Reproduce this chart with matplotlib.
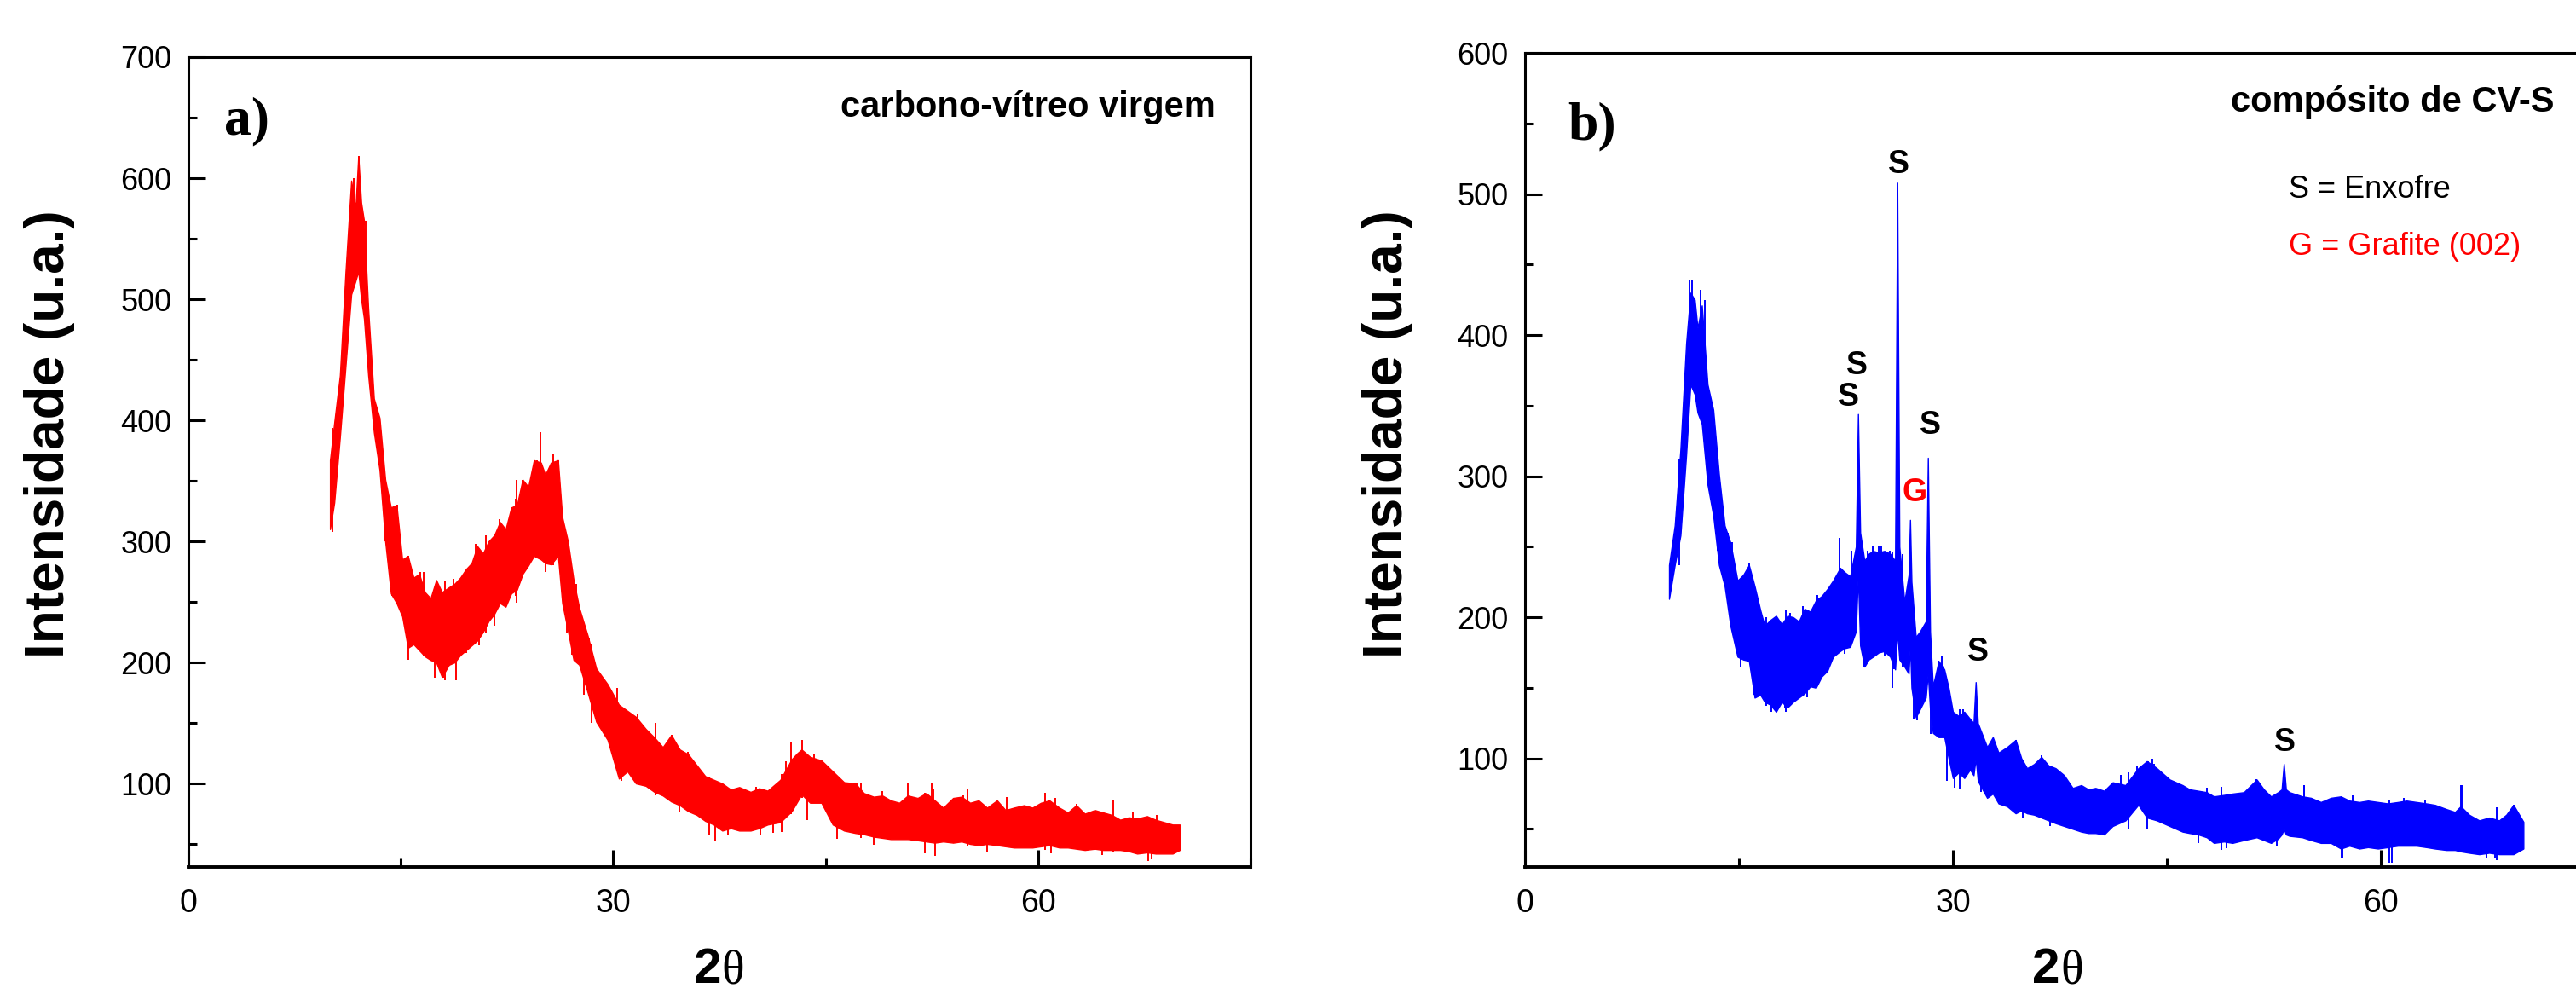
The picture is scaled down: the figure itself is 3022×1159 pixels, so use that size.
import matplotlib
matplotlib.use('Agg')
import matplotlib.pyplot as plt
from matplotlib.ticker import MultipleLocator

plt.rcParams['font.family'] = ['Liberation Sans', 'DejaVu Sans']

# a) carbono-vitreo virgem : noisy band (upper / lower edge)
ang_a = [10.0, 10.3, 10.7, 11.1, 11.5, 11.8, 12.0, 12.2, 12.4, 12.7,
         13.1, 13.5, 13.9, 14.3, 14.7, 15.1, 15.5, 15.9, 16.3, 16.7,
         17.1, 17.5, 17.9, 18.4, 18.8, 19.2, 19.6, 20.0, 20.4, 20.8,
         21.2, 21.6, 22.0, 22.4, 22.8, 23.2, 23.6, 24.0, 24.4, 24.9,
         25.2, 25.6, 26.1, 26.4, 26.8, 27.2, 27.6, 28.2, 28.8, 29.6,
         30.4, 31.0, 31.6, 32.3, 32.9, 33.5, 34.1, 34.7, 35.3, 35.9,
         36.5, 37.1, 37.7, 38.3, 38.9, 39.7, 40.3, 40.9, 41.8, 42.6,
         43.0, 43.3, 43.9, 44.7, 45.5, 46.3, 47.1, 47.7, 48.4, 49.0,
         49.6, 50.2, 50.8, 51.5, 52.1, 52.7, 53.3, 54.0, 54.6, 55.2,
         55.8, 56.4, 57.1, 57.7, 58.3, 59.0, 59.6, 60.2, 60.8, 61.5,
         62.1, 62.7, 63.3, 64.0, 64.6, 65.2, 65.8, 66.4, 67.0, 67.7,
         68.3, 68.9, 69.5, 70.0]
top_a = [367, 398, 437, 523, 598, 575, 618, 580, 565, 492,
         418, 402, 351, 328, 330, 285, 288, 270, 273, 258,
         253, 268, 258, 262, 265, 270, 277, 282, 296, 290,
         300, 305, 316, 310, 328, 330, 351, 345, 367, 365,
         355, 365, 367, 320, 300, 268, 245, 222, 195, 182,
         165, 160, 155, 145, 138, 130, 140, 128, 124, 115,
         106, 103, 100, 95, 97, 93, 96, 94, 103, 120,
         125, 128, 122, 119, 110, 101, 100, 92, 89, 90,
         86, 84, 90, 88, 92, 86, 80, 88, 89, 84,
         86, 80, 86, 78, 80, 82, 80, 84, 86, 80,
         76, 82, 75, 78, 76, 74, 70, 72, 71, 73,
         70, 68, 66, 66]
bot_a = [310, 332, 386, 445, 504, 515, 523, 500, 484, 437,
         390, 359, 300, 257, 249, 238, 212, 215, 210, 205,
         202, 200, 188, 198, 200, 206, 210, 214, 218, 225,
         234, 240, 249, 246, 257, 260, 273, 280, 288, 285,
         282, 281, 288, 249, 226, 202, 198, 175, 151, 136,
         104, 110, 100, 98, 93, 90, 85, 82, 77, 74,
         69, 66, 61, 63, 61, 61, 63, 66, 68, 77,
         85, 91, 84, 84, 66, 61, 59, 58, 56, 55,
         54, 54, 54, 53, 52, 51, 52, 51, 52, 50,
         49, 50, 49, 48, 47, 47, 47, 48, 49, 47,
         47, 46, 45, 46, 45, 45, 45, 44, 42, 43,
         42, 42, 42, 45]
# single noise spikes: angle, top, bottom
spk_ang_a = [11.65, 12.05, 14.75, 16.6, 18.0, 18.9, 21.0, 23.1, 24.85, 25.75,
             28.5, 33.0, 36.8, 41.9, 42.55, 43.35, 47.5, 52.0, 52.5, 55.0,
             60.5, 60.9, 65.3, 68.0,
             10.2, 11.2, 12.5, 13.9, 14.4, 15.5, 15.9, 16.4, 17.4, 18.1,
             18.7, 19.6, 20.3, 20.5, 21.6, 22.0, 23.15, 23.2, 23.6, 24.6,
             25.2, 26.1, 26.7, 27.1, 27.4, 27.9, 28.3, 30.3, 30.6, 31.7,
             34.1, 34.7, 35.3, 37.2, 38.1, 40.1, 40.4, 41.3, 42.2, 43.7,
             44.2, 45.1, 45.8, 47.2, 48.4, 49.0, 50.8, 52.6, 52.7, 54.7,
             56.4, 57.8, 61.2, 62.7, 64.5, 66.7, 67.8, 68.4]
spk_top_a = [600, 618, 330, 275, 250, 255, 305, 335, 390, 372,
             215, 150, 105, 108, 134, 136, 100, 92, 100, 96,
             92, 84, 86, 72,
             394, 520, 565, 340, 310, 288, 267, 275, 240, 267,
             269, 250, 298, 260, 280, 318, 300, 351, 351, 367,
             330, 367, 280, 250, 265, 210, 220, 179, 140, 157,
             140, 110, 126, 85, 85, 97, 80, 85, 118, 110,
             124, 111, 80, 101, 70, 94, 100, 96, 70, 90,
             65, 89, 88, 83, 60, 77, 55, 74]
spk_bot_a = [510, 520, 255, 205, 187, 185, 225, 255, 285, 280,
             150, 90, 58, 60, 75, 88, 55, 42, 52, 48,
             45, 42, 44, 37,
             308, 460, 500, 300, 255, 202, 225, 230, 187, 185,
             225, 208, 240, 214, 230, 270, 249, 290, 300, 310,
             275, 300, 224, 206, 215, 173, 180, 130, 102, 120,
             105, 77, 95, 52, 57, 75, 57, 59, 90, 70,
             95, 80, 54, 75, 49, 70, 70, 70, 40, 65,
             43, 65, 62, 60, 41, 55, 36, 55]

# b) composito de CV-S
ang_b = [10.1, 10.5, 10.9, 11.3, 11.6, 11.9, 12.1, 12.4, 12.8, 13.2,
         13.6, 14.0, 14.4, 14.9, 15.3, 15.7, 16.1, 16.5, 16.8, 17.2,
         17.6, 18.0, 18.4, 18.8, 19.2, 19.6, 20.0, 20.4, 20.8, 21.2,
         21.6, 22.1, 22.4, 22.8, 23.2, 23.35, 23.5, 23.8, 24.1, 24.4,
         24.8, 25.2, 25.6, 25.95, 26.1, 26.25, 26.6, 26.9, 27.0, 27.1,
         27.4, 27.7, 28.1, 28.25, 28.4, 28.6, 29.0, 29.4, 29.7, 30.0,
         30.4, 30.8, 31.2, 31.45, 31.6, 31.75, 32.4, 32.8, 33.2, 33.8,
         34.4, 34.8, 35.2, 35.7, 36.2, 36.7, 37.2, 37.8, 38.4, 39.0,
         39.5, 40.0, 40.6, 41.2, 42.1, 43.0, 43.6, 44.3, 45.2, 46.1,
         46.6, 47.2, 47.8, 48.3, 49.0, 49.6, 50.4, 51.3, 51.8, 52.3,
         52.8, 53.05, 53.2, 53.35, 53.6, 54.5, 55.1, 55.8, 56.5, 57.2,
         57.8, 58.5, 59.1, 59.8, 60.5, 61.2, 61.8, 62.5, 63.2, 63.8,
         64.6, 65.2, 65.6, 66.2, 66.9, 67.6, 68.3, 68.8, 69.3, 70.0]
top_b = [237, 265, 319, 394, 430, 425, 405, 421, 365, 347,
         301, 265, 253, 226, 230, 237, 222, 205, 194, 198,
         201, 195, 201, 200, 197, 206, 204, 212, 215, 220,
         226, 235, 232, 229, 250, 344, 260, 240, 245, 247,
         246, 247, 245, 240, 508, 250, 211, 230, 269, 225,
         186, 190, 197, 313, 190, 151, 169, 163, 150, 133,
         130, 133, 128, 125, 154, 125, 108, 115, 104, 108,
         113, 100, 93, 96, 101, 95, 93, 88, 79, 81,
         78, 79, 77, 83, 81, 93, 98, 93, 85, 81,
         78, 77, 76, 73, 74, 75, 76, 85, 78, 73,
         76, 78, 96, 78, 76, 73, 72, 69, 72, 73,
         70, 69, 70, 69, 68, 69, 70, 69, 68, 67,
         64, 62, 66, 60, 56, 58, 56, 60, 67, 55]
bot_b = [213, 237, 258, 315, 365, 358, 345, 337, 294, 272,
         237, 222, 194, 172, 170, 169, 143, 145, 140, 138,
         133, 140, 136, 140, 143, 146, 151, 150, 158, 162,
         172, 176, 178, 179, 190, 230, 180, 165, 170, 172,
         175, 176, 172, 163, 190, 170, 165, 160, 180, 150,
         129, 135, 143, 160, 135, 118, 115, 115, 100, 86,
         90, 86, 92, 88, 100, 84, 72, 75, 68, 66,
         61, 63, 61, 60, 58, 56, 54, 52, 50, 48,
         47, 47, 46, 52, 56, 67, 58, 56, 52, 48,
         47, 46, 44, 40, 41, 40, 42, 44, 42, 40,
         43, 46, 50, 46, 45, 44, 42, 40, 40, 36,
         38, 36, 37, 36, 37, 38, 38, 38, 37, 36,
         35, 35, 34, 33, 32, 33, 32, 32, 32, 36]
spk_ang_b = [11.55, 12.3, 12.6, 16.9, 18.3, 20.5, 22.05, 24.4, 25.0, 25.75,
             26.45, 27.25, 29.2, 30.5, 34.4, 42.3, 44.0, 48.8, 54.6, 57.3,
             60.6, 65.6, 68.1,
             10.8, 11.7, 11.9, 13.2, 13.5, 14.2, 14.5, 15.1, 15.7, 16.1,
             17.3, 18.2, 18.6, 19.5, 19.8, 20.55, 21.3, 22.4, 22.9, 23.8,
             24.0, 24.8, 25.2, 25.6, 25.9, 26.4, 26.7, 27.5, 28.0, 28.45,
             29.0, 29.6, 30.1, 30.7, 32.0, 34.9, 36.2, 36.8, 41.2, 41.8,
             42.9, 43.7, 43.6, 44.1, 44.7, 47.2, 47.8, 49.2, 51.3, 52.7,
             54.65, 57.25, 58.0, 60.8, 61.6, 63.1, 65.65, 67.4, 68.0, 69.3]
spk_top_b = [439, 432, 425, 200, 205, 216, 256, 250, 250, 246,
             245, 200, 173, 135, 113, 90, 100, 80, 81, 72,
             70, 81, 65,
             312, 439, 426, 347, 290, 260, 253, 200, 238, 180,
             170, 170, 203, 208, 180, 211, 219, 210, 247, 210,
             247, 251, 210, 247, 200, 220, 200, 160, 185, 150,
             169, 120, 110, 135, 100, 85, 102, 75, 83, 88,
             94, 98, 70, 96, 86, 60, 79, 55, 85, 55,
             81, 50, 74, 45, 72, 71, 81, 45, 45, 67]
spk_bot_b = [360, 340, 330, 137, 133, 155, 190, 172, 180, 150,
             165, 128, 120, 78, 70, 50, 60, 35, 44, 29,
             26, 38, 28,
             237, 370, 360, 290, 247, 228, 215, 165, 190, 145,
             133, 136, 165, 170, 143, 175, 180, 174, 200, 165,
             200, 200, 172, 200, 163, 183, 165, 127, 150, 117,
             130, 84, 79, 100, 76, 58, 75, 52, 60, 62,
             70, 75, 50, 72, 65, 40, 58, 36, 60, 38,
             58, 29, 52, 26, 52, 50, 55, 29, 29, 45]

# peak labels (angle, baseline intensity, text, colour)
lab_ang = [26.2, 23.3, 22.7, 28.4, 27.3, 31.75, 53.3]
lab_int = [515, 372, 350, 330, 282, 169, 105]
lab_txt = ['S', 'S', 'S', 'S', 'G', 'S', 'S']
lab_col = ['black', 'black', 'black', 'black', 'red', 'black', 'black']


def style(ax, ymin, ymax):
    ax.set_xlim(0, 75)
    ax.set_ylim(ymin, ymax)
    ax.xaxis.set_major_locator(MultipleLocator(30))
    ax.xaxis.set_minor_locator(MultipleLocator(15))
    ax.yaxis.set_major_locator(MultipleLocator(100))
    ax.yaxis.set_minor_locator(MultipleLocator(50))
    ax.tick_params(which='both', direction='in', top=False, right=False, width=2.2)
    ax.tick_params(axis='x', which='major', length=14.5, labelsize=27, pad=18)
    ax.tick_params(axis='x', which='minor', length=7.5)
    ax.tick_params(axis='y', which='major', length=14.5, labelsize=26, pad=14)
    ax.tick_params(axis='y', which='minor', length=7.5)
    ax.set_yticks([t for t in ax.get_yticks() if ymin < t <= ymax])
    for s in ax.spines.values():
        s.set_linewidth(2.2)
    ax.spines['bottom'].set_linewidth(2.8)


W, H = 3022, 1159
fig = plt.figure(figsize=(W / 100, H / 100), dpi=100)

ax1 = fig.add_axes([221 / W, 1 - 1017 / H, 1246 / W, (1017 - 67) / H])
ax1.fill_between(ang_a, bot_a, top_a, color='red', lw=1.0)
ax1.vlines(spk_ang_a, spk_bot_a, spk_top_a, color='red', lw=1.4)
style(ax1, 31, 700)
ax1.text(0.034, 0.905, 'a)', transform=ax1.transAxes, fontsize=46,
         fontweight='bold', family='Liberation Serif', va='baseline')
ax1.text(0.967, 0.926, 'carbono-vítreo virgem', transform=ax1.transAxes,
         fontsize=30, fontweight='bold', ha='right', va='baseline')

ax2 = fig.add_axes([1789 / W, 1 - 1017 / H, 1255 / W, (1017 - 62) / H])
ax2.fill_between(ang_b, bot_b, top_b, color='blue', lw=1.0)
ax2.vlines(spk_ang_b, spk_bot_b, spk_top_b, color='blue', lw=1.4)
style(ax2, 23, 600)
ax2.text(0.040, 0.894, 'b)', transform=ax2.transAxes, fontsize=46,
         fontweight='bold', family='Liberation Serif', va='baseline')
ax2.text(0.9625, 0.928, 'compósito de CV-S', transform=ax2.transAxes,
         fontsize=30, fontweight='bold', ha='right', va='baseline')
ax2.text(0.714, 0.822, 'S = Enxofre', transform=ax2.transAxes,
         fontsize=26, va='baseline')
ax2.text(0.714, 0.752, 'G = Grafite (002)', transform=ax2.transAxes,
         fontsize=26, color='red', va='baseline')
for a, i, t, c in zip(lab_ang, lab_int, lab_txt, lab_col):
    ax2.text(a, i, t, fontsize=27, fontweight='bold', color=c,
             ha='center', va='baseline')

# axis labels
for xb, xj in [(75, 846), (1645, 2417)]:
    fig.text(xb / W, 1 - 772 / H, 'Intensidade (u.a.)', rotation=90,
             rotation_mode='anchor', ha='left', va='baseline',
             fontsize=46, fontweight='bold')
    fig.text(xj / W, 1 - 1153 / H, '2', ha='right', va='baseline',
             fontsize=42, fontweight='bold')
    fig.text(xj / W, 1 - 1153 / H, 'θ', ha='left', va='baseline',
             fontsize=40, family='Liberation Serif')

fig.savefig('out.png', dpi=100)
